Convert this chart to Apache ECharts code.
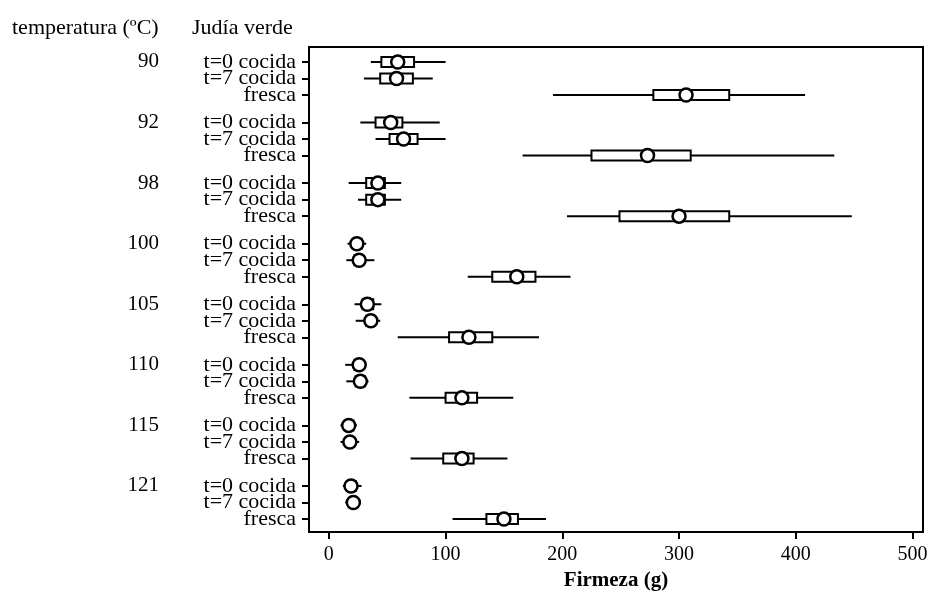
<!DOCTYPE html>
<html>
<head>
<meta charset="utf-8">
<script src="https://cdn.jsdelivr.net/npm/echarts@6/dist/echarts.min.js"></script>
<style>
  html, body { margin: 0; background: #fff; }
  #chart { width: 930px; height: 594px; }
</style>
</head>
<body>
<div id="chart"></div>
<script>
const temperatures = ['90', '92', '98', '100', '105', '110', '115', '121'];
const treatments = ['t=0 cocida', 't=7 cocida', 'fresca'];

// [min, q1, median, q3, max], rows ordered temperature x treatment
const boxStats = [
  [36, 45, 58, 73, 100], [30, 44, 57, 72, 89], [192, 278, 304, 343, 408],
  [27, 40, 52, 63, 95], [40, 52, 64, 76, 100], [166, 225, 270, 310, 433],
  [17, 32, 40, 48, 62], [25, 32, 40, 48, 62], [204, 249, 296, 343, 448],
  [16, 21, 24, 28, 32], [15, 22, 25, 29, 39], [119, 140, 158, 177, 207],
  [22, 29, 33, 38, 45], [23, 32, 35, 39, 44], [59, 103, 118, 140, 180],
  [14, 22, 25, 29, 32], [15, 23, 27, 31, 34], [69, 100, 113, 127, 158],
  [10, 14, 17, 21, 24], [10, 15, 18, 21, 26], [70, 98, 113, 124, 153],
  [12, 16, 19, 23, 28], [14, 18, 21, 24, 27], [106, 135, 150, 162, 186],
];
const means = [
  59, 58, 306,
  53, 64, 273,
  42, 42, 300,
  24, 26, 161,
  33, 36, 120,
  26, 27, 114,
  17, 18, 114,
  19, 21, 150,
];
const xTicks = [0, 100, 200, 300, 400, 500];

const FONT = 'Liberation Serif';
const GROUP_STEP = 11;
const ROW_STEP = 3;
const FIRST_ROW = 3;

function rowPosition(group, row) {
  return FIRST_ROW + group * GROUP_STEP + row * ROW_STEP;
}

const groupPositions = temperatures.map((_, g) => rowPosition(g, 0));
const seriesData = boxStats.map((stats, i) => [
  rowPosition(Math.floor(i / treatments.length), i % treatments.length),
  ...stats,
  means[i],
]);

function renderBox(params, api) {
  const y = api.value(0);
  const lo = api.coord([api.value(1), y]);
  const q1 = api.coord([api.value(2), y]);
  const med = api.coord([api.value(3), y]);
  const q3 = api.coord([api.value(4), y]);
  const hi = api.coord([api.value(5), y]);
  const mean = api.coord([api.value(6), y]);
  const h = 10;
  const ink = { stroke: '#000', lineWidth: 2 };

  return {
    type: 'group',
    children: [
      { type: 'line', shape: { x1: lo[0], y1: lo[1], x2: hi[0], y2: hi[1] }, style: ink },
      {
        type: 'rect',
        shape: { x: q1[0], y: q1[1] - h / 2, width: q3[0] - q1[0], height: h },
        style: { fill: '#fff', stroke: '#000', lineWidth: 2 },
      },
      { type: 'line', shape: { x1: med[0], y1: med[1] - h / 2, x2: med[0], y2: med[1] + h / 2 }, style: ink },
      {
        type: 'circle',
        shape: { cx: mean[0], cy: mean[1], r: 6.5 },
        style: { fill: '#fff', stroke: '#000', lineWidth: 2.5 },
      },
    ],
  };
}

const yRange = { min: FIRST_ROW - 2.72, max: FIRST_ROW + 85.36 };

// one y axis per treatment so that its 8 labels never collide with each other
const treatmentAxes = treatments.map((name, row) => {
  const positions = temperatures.map((_, g) => rowPosition(g, row));
  return {
    type: 'value',
    inverse: true,
    position: 'left',
    min: yRange.min,
    max: yRange.max,
    axisLine: { show: row === 0, onZero: false, lineStyle: { color: '#000', width: 2 } },
    axisTick: { show: true, length: 7, customValues: positions, lineStyle: { color: '#000', width: 2 } },
    axisLabel: {
      customValues: positions,
      formatter: () => name,
      showMinLabel: true,
      showMaxLabel: true,
      margin: 13,
      fontFamily: FONT,
      fontSize: 22,
      color: '#000',
    },
    splitLine: { show: false },
  };
});

const temperatureAxis = {
  type: 'value',
  inverse: true,
  position: 'left',
  offset: 150,
  min: yRange.min,
  max: yRange.max,
  axisLine: { show: false, onZero: false },
  axisTick: { show: false },
  axisLabel: {
    customValues: groupPositions,
    formatter: (value) => temperatures[groupPositions.indexOf(value)] ?? '',
    showMinLabel: true,
    showMaxLabel: true,
    margin: 0,
    fontFamily: FONT,
    fontSize: 21,
    color: '#000',
  },
  splitLine: { show: false },
};

const chart = echarts.init(document.getElementById('chart'), null, { renderer: 'canvas' });

chart.setOption({
  animation: false,
  backgroundColor: '#fff',
  textStyle: { fontFamily: FONT, color: '#000' },
  grid: {
    left: 309,
    right: 7,
    top: 47,
    bottom: 62,
    containLabel: false,
    outerBoundsMode: 'none',
    show: true,
    borderColor: '#000',
    borderWidth: 2,
  },
  graphic: [
    {
      type: 'text',
      left: 12,
      top: 17,
      style: { text: 'temperatura (ºC)', font: `22px "${FONT}"`, fill: '#000' },
    },
    {
      type: 'text',
      left: 192,
      top: 17,
      style: { text: 'Judía verde', font: `22px "${FONT}"`, fill: '#000' },
    },
  ],
  xAxis: {
    type: 'value',
    min: -17,
    max: 509,
    name: 'Firmeza (g)',
    nameLocation: 'middle',
    nameGap: 38,
    nameTextStyle: { fontFamily: FONT, fontSize: 21, fontWeight: 'bold', color: '#000' },
    axisLine: { show: true, onZero: false, lineStyle: { color: '#000', width: 2 } },
    axisTick: { show: true, length: 7, customValues: xTicks, lineStyle: { color: '#000', width: 2 } },
    axisLabel: { customValues: xTicks, margin: 13, fontFamily: FONT, fontSize: 20, color: '#000' },
    splitLine: { show: false },
  },
  yAxis: [...treatmentAxes, temperatureAxis],
  series: [
    {
      type: 'custom',
      renderItem: renderBox,
      yAxisIndex: 0,
      encode: { y: 0, x: [1, 2, 3, 4, 5, 6] },
      data: seriesData,
      clip: false,
    },
  ],
});
</script>
</body>
</html>
